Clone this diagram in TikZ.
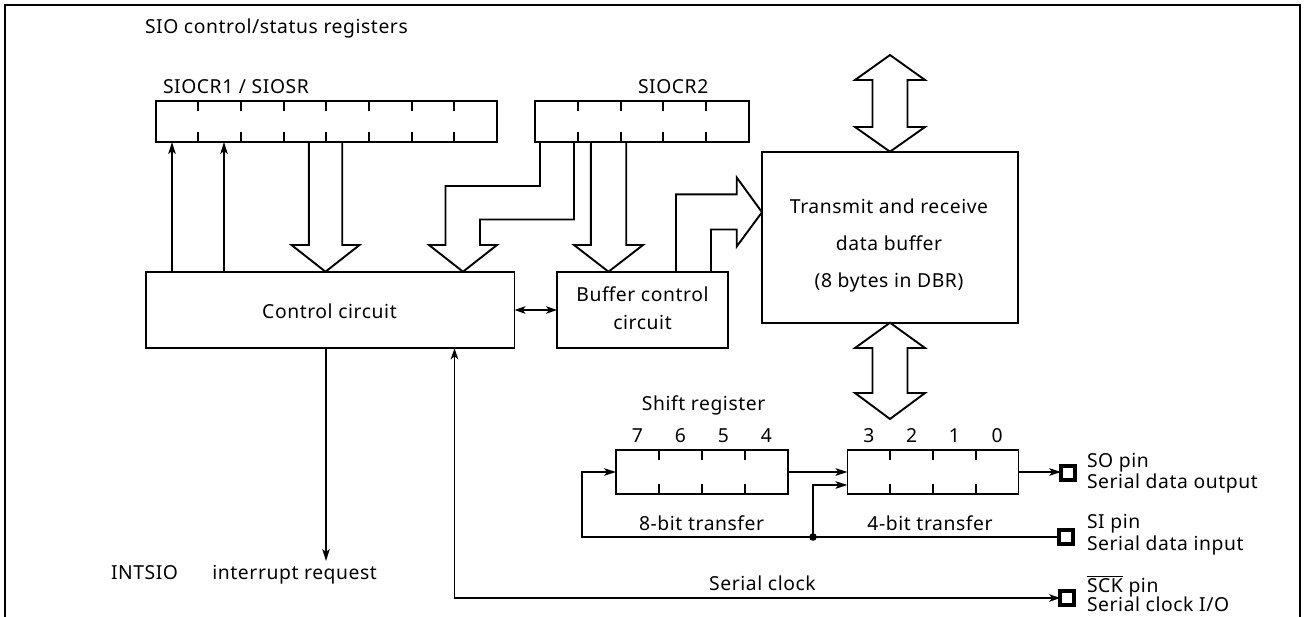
\documentclass[tikz,border=0pt]{standalone}
\usepackage{fontspec}
\setmainfont[LetterSpace=3]{Noto Sans}
\usetikzlibrary{arrows.meta}
\begin{document}
\begin{tikzpicture}[x=1pt,y=-1pt,line width=1.9pt,line join=miter,
  box/.style={draw,line width=1.9pt,inner sep=0pt,outer sep=0pt,anchor=north west},
  pin/.style={draw,line width=3.5pt,minimum size=13.6pt,inner sep=0pt,outer sep=0pt},
  txt/.style={font=\fontsize{19.3}{22}\selectfont,inner sep=0pt,outer sep=0pt},
  arr/.style={-{Stealth[length=12pt,width=7.5pt,inset=3pt]}},
  barr/.style={{Stealth[length=11pt,width=7.5pt,inset=3pt]}-{Stealth[length=11pt,width=7.5pt,inset=3pt]}},
  hollow/.style={draw,line width=1.9pt,line join=miter}]
\useasboundingbox (0,0) rectangle (1308,616);
% frame
\draw[line width=2.2pt] (5,680) -- (5,5) -- (1300,5) -- (1300,680);

% registers
\node[box,minimum width=341.3pt,minimum height=41.3pt] (r1) at (155.7,100.7) {};
\foreach \i in {1,...,7}{
  \draw ([xshift=\i*42.66pt]r1.north west) -- ++(0,10);
  \draw ([xshift=\i*42.66pt]r1.south west) -- ++(0,-10);}
\node[box,minimum width=214pt,minimum height=41.3pt] (r2) at (535,100.7) {};
\foreach \i in {1,...,4}{
  \draw ([xshift=\i*42.8pt]r2.north west) -- ++(0,10);
  \draw ([xshift=\i*42.8pt]r2.south west) -- ++(0,-10);}

% main boxes
\node[box,minimum width=368.5pt,minimum height=76.6pt] (ctl) at (146,271.7) {};
\node[box,minimum width=171pt,minimum height=76.6pt] (bc) at (557,271.7) {};
\node[box,minimum width=256pt,minimum height=171pt] (db) at (762,151.7) {};

% shift registers
\node[box,minimum width=172pt,minimum height=44pt] (sh1) at (616,450) {};
\foreach \i in {1,...,3}{
  \draw ([xshift=\i*43pt]sh1.north west) -- ++(0,10);
  \draw ([xshift=\i*43pt]sh1.south west) -- ++(0,-10);}
\node[box,minimum width=171pt,minimum height=44pt] (sh2) at (847.5,450) {};
\foreach \i in {1,...,3}{
  \draw ([xshift=\i*42.75pt]sh2.north west) -- ++(0,10);
  \draw ([xshift=\i*42.75pt]sh2.south west) -- ++(0,-10);}

% pins
\node[pin] (so) at (1068,473) {};
\node[pin] (si) at (1066,537) {};
\node[pin] (sck) at (1067,598) {};

% texts
\node[txt,anchor=base west] (ttl) at (145,33) {SIO control/status registers};
\node[txt,anchor=base west] (lr1) at (163,93) {SIOCR1 / SIOSR};
\node[txt,anchor=base west] (lr2) at (638,93) {SIOCR2};
\node[txt,anchor=base] (db1) at (889,213) {Transmit and receive};
\node[txt,anchor=base] (db2) at (889,250) {data buffer};
\node[txt,anchor=base] (db3) at (889,287) {(8 bytes in DBR)};
\node[txt,anchor=base] (ctlt) at (329.5,318) {Control circuit};
\node[txt,anchor=base] (bc1) at (642.5,301) {Buffer control};
\node[txt,anchor=base] (bc2) at (642.5,329) {circuit};
\node[txt,anchor=base] (shl) at (703.6,410) {Shift register};
\foreach \n/\x in {7/637.5,6/680.5,5/723.5,4/766.5,3/868.9,2/911.6,1/954.4,0/997.1}
  \node[txt,anchor=base] (num\n) at (\x,442) {\n};
\node[txt,anchor=base] (t8) at (701.6,530) {8-bit transfer};
\node[txt,anchor=base] (t4) at (930,530) {4-bit transfer};
\node[txt,anchor=base] (tclk) at (762.5,590) {Serial clock};
\node[txt,anchor=base west] (tint) at (111,579) {INTSIO};
\node[txt,anchor=base west] (tirq) at (212.4,579) {interrupt request};
\node[txt,anchor=base west] (so1) at (1087,467) {SO pin};
\node[txt,anchor=base west] (so2) at (1087,488.5) {Serial data output};
\node[txt,anchor=base west] (si1) at (1087,528.5) {SI pin};
\node[txt,anchor=base west] (si2) at (1087,550) {Serial data input};
\node[txt,anchor=base west] (sck1) at (1087,592) {$\overline{\hbox{SCK}}$ pin};
\node[txt,anchor=base west] (sck2) at (1087,611.5) {Serial clock I/O};

% thin arrows from control to SIOCR1/SIOSR
\draw[arr] ([xshift=26pt]ctl.north west) -- ([xshift=16.3pt]r1.south west);
\draw[arr] ([xshift=78pt]ctl.north west) -- ([xshift=68.3pt]r1.south west);

% hollow arrow SIOCR1 -> control
\draw[hollow] ([xshift=153.1pt]r1.south west) -- (308.8,245) -- (291.5,245)
  -- ([xshift=179.5pt]ctl.north west) -- (359.5,245) -- (342.2,245) -- ([xshift=186.5pt]r1.south west);
% hollow bent arrow SIOCR2 -> control
\draw[hollow] ([xshift=5pt]r2.south west) -- (540,186) -- (445.5,186) -- (445.5,245) -- (429,245)
  -- ([xshift=317pt]ctl.north west) -- (497,245) -- (480,245) -- (480,219.5) -- (574,219.5)
  -- ([xshift=39pt]r2.south west);
% hollow arrow SIOCR2 -> buffer control
\draw[hollow] ([xshift=55.8pt]r2.south west) -- (590.8,245) -- (574,245)
  -- ([xshift=51.5pt]bc.north west) -- (643,245) -- (626.2,245) -- ([xshift=91.2pt]r2.south west);
% hollow arrow buffer control -> data buffer
\draw[hollow] ([xshift=119pt]bc.north west) -- (676,194.3) -- (736.7,194.3) -- (736.7,177.5)
  -- ([yshift=-60.5pt]db.north west) -- (736.7,246.5) -- (736.7,229.5) -- (711,229.5)
  -- ([xshift=154pt]bc.north west);
% double hollow arrows on data buffer
\draw[hollow] (890,55) -- (925,80) -- (907.5,80) -- (907.5,127) -- (925,127) -- (db.north)
  -- (855,127) -- (872.5,127) -- (872.5,80) -- (855,80) -- cycle;
\draw[hollow] (db.south) -- (925,348) -- (907.5,348) -- (907.5,393) -- (925,393) -- (890,419)
  -- (855,393) -- (872.5,393) -- (872.5,348) -- (855,348) -- cycle;

% control <-> buffer control
\draw[barr] (ctl.east) -- (bc.west);

% interrupt request
\coordinate (irq) at (326,561);
\draw[arr] ([xshift=180pt]ctl.south west) -- (irq);

% serial clock
\draw[barr] ([xshift=308.5pt]ctl.south west) -- (454.5,598) -- (sck.west);

% shift register connections
\draw[arr] (sh1.east) -- (sh1.east -| sh2.west);
\draw[arr] (sh2.east) -- (sh2.east -| so.west);
\coordinate (jn) at (813,537);
\draw[arr] (si.west) -- (582,537) -- (582,472) -- (sh1.west);
\fill (jn) circle (3.8pt);
\draw[arr] (jn) -- (813,485) -- ([yshift=-13pt]sh2.west);
\end{tikzpicture}
\end{document}
